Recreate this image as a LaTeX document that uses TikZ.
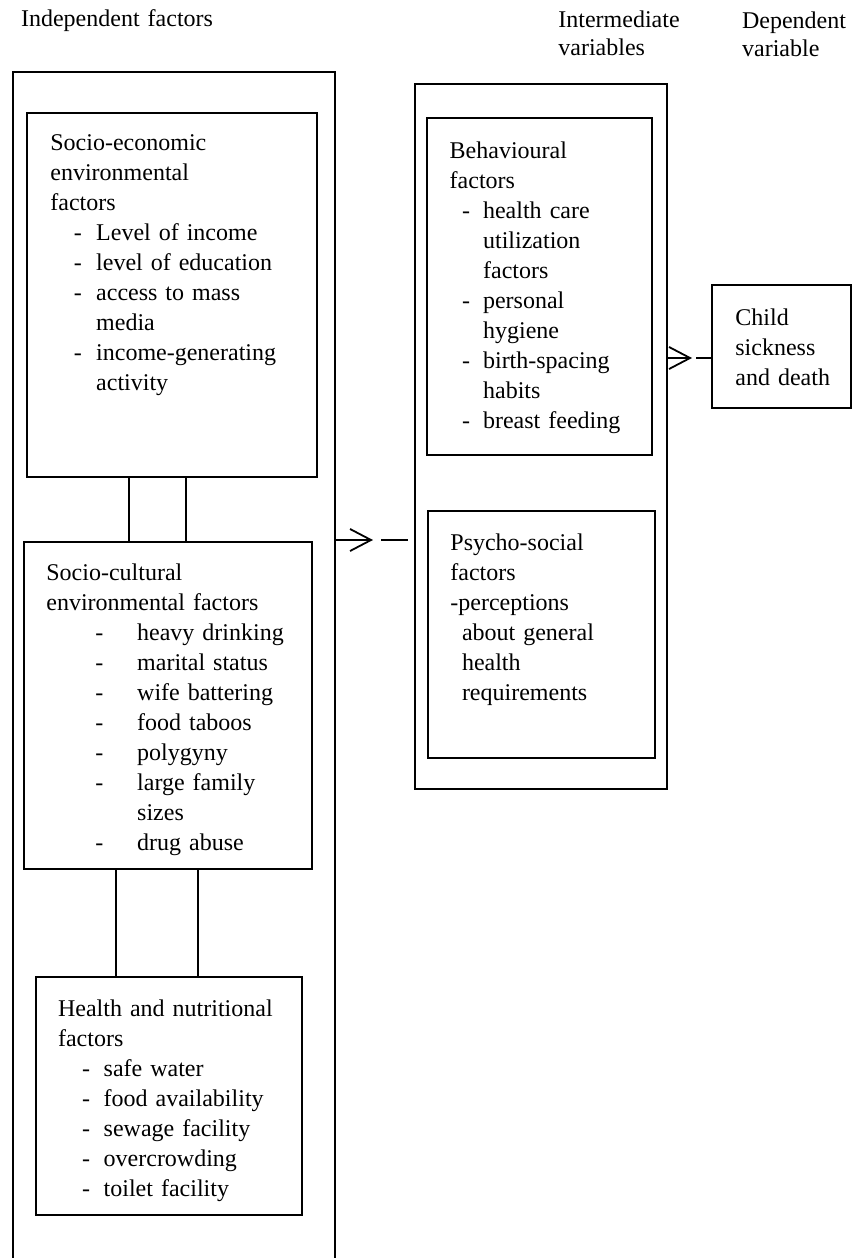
\documentclass[tikz,border=0pt]{standalone}
\usepackage{fontspec}
\setmainfont{Liberation Serif}
\usetikzlibrary{arrows.meta,fit}
\newcommand{\dashitem}[3]{\hspace*{#1}\makebox[#2][l]{-}#3}
\newcommand{\contitem}[2]{\hspace*{#1}#2}
\tikzset{
	box/.style={draw, line width=0.9pt, inner sep=0pt},
	txt/.style={font=\fontsize{12}{15}\selectfont, inner sep=0pt, align=left, text width=200pt, anchor=base west},
	hdr/.style={txt, font=\fontsize{12}{14}\selectfont},
	link/.style={line width=0.9pt},
	flow/.style={line width=0.9pt, -{Straight Barb[length=10.5pt,width=11pt]}}
}

\begin{document}
\begin{tikzpicture}[x=0.5pt, y=-0.5pt]
	%%%%% FRAME %%%%%
	\useasboundingbox (0,0) rectangle (852,1258);
	
	%%%%% HEADINGS %%%%%
	\node[hdr] (hdr-indep) at (20.7,26.7) {Independent factors};
	\node[hdr] (hdr-interm) at (558,27.5) {Intermediate\\variables};
	\node[hdr] (hdr-dep) at (741.7,28.3) {Dependent\\variable};
	
	%%%%% INDEPENDENT FACTORS %%%%%
	\node[box, fit={(12.7,71.7) (335,1300)}] (indep) {};
	
	\node[box, fit={(27.3,112.7) (316.7,477.3)}] (socioeco) {};
	\node[txt] (socioeco-txt) at (50,150.7) {Socio-economic\\
		environmental\\
		factors\\
		\dashitem{11.7pt}{11.2pt}{Level of income}\\
		\dashitem{11.7pt}{11.2pt}{level of education}\\
		\dashitem{11.7pt}{11.2pt}{access to mass}\\
		\contitem{22.9pt}{media}\\
		\dashitem{11.7pt}{11.2pt}{income-generating}\\
		\contitem{22.9pt}{activity}};
	
	\node[box, fit={(24,541.7) (312.3,869)}] (sociocult) {};
	\node[txt] (sociocult-txt) at (46,580) {Socio-cultural\\
		environmental factors\\
		\dashitem{24.5pt}{20.9pt}{heavy drinking}\\
		\dashitem{24.5pt}{20.9pt}{marital status}\\
		\dashitem{24.5pt}{20.9pt}{wife battering}\\
		\dashitem{24.5pt}{20.9pt}{food taboos}\\
		\dashitem{24.5pt}{20.9pt}{polygyny}\\
		\dashitem{24.5pt}{20.9pt}{large family}\\
		\contitem{45.4pt}{sizes}\\
		\dashitem{24.5pt}{20.9pt}{drug abuse}};
	
	\node[box, fit={(35.7,976.7) (301.7,1215)}] (healthnut) {};
	\node[txt] (healthnut-txt) at (57.7,1016.7) {Health and nutritional\\
		factors\\
		\dashitem{12pt}{10.8pt}{safe water}\\
		\dashitem{12pt}{10.8pt}{food availability}\\
		\dashitem{12pt}{10.8pt}{sewage facility}\\
		\dashitem{12pt}{10.8pt}{overcrowding}\\
		\dashitem{12pt}{10.8pt}{toilet facility}};
	
	\foreach \x in {129.3,185.7}
		\draw[link] (\x,0 |- socioeco.south) -- (\x,0 |- sociocult.north);
	\foreach \x in {116,197.7}
		\draw[link] (\x,0 |- sociocult.south) -- (\x,0 |- healthnut.north);
	
	%%%%% INTERMEDIATE VARIABLES %%%%%
	\node[box, fit={(415,84) (666.7,789.3)}] (interm) {};
	
	\node[box, fit={(426.7,118.3) (651.7,455)}] (behav) {};
	\node[txt] (behav-txt) at (449.3,158.3) {Behavioural\\
		factors\\
		\dashitem{6.2pt}{10.5pt}{health care}\\
		\contitem{16.7pt}{utilization}\\
		\contitem{16.7pt}{factors}\\
		\dashitem{6.2pt}{10.5pt}{personal}\\
		\contitem{16.7pt}{hygiene}\\
		\dashitem{6.2pt}{10.5pt}{birth-spacing}\\
		\contitem{16.7pt}{habits}\\
		\dashitem{6.2pt}{10.5pt}{breast feeding}};
	
	\node[box, fit={(428.3,510.7) (655,758.3)}] (psycho) {};
	\node[txt] (psycho-txt) at (450,550) {Psycho-social\\
		factors\\
		-perceptions\\
		\contitem{5.8pt}{about general}\\
		\contitem{5.8pt}{health}\\
		\contitem{5.8pt}{requirements}};
	
	%%%%% DEPENDENT VARIABLE %%%%%
	\node[box, fit={(711.7,285) (850.7,408)}] (child) {};
	\node[txt] (child-txt) at (735,325) {Child\\
		sickness\\
		and death};
	
	%%%%% ARROWS %%%%%
	\coordinate (tip1) at (373,540);
	\draw[flow] (indep.east |- tip1) -- (tip1);
	\draw[link, shorten <=4pt, shorten >=3pt] (tip1) -- (interm.west |- tip1);
	
	\coordinate (tip2) at (692,358);
	\draw[flow] (interm.east |- tip2) -- (tip2);
	\draw[link, shorten <=2pt] (tip2) -- (child.west |- tip2);
\end{tikzpicture}
\end{document}
